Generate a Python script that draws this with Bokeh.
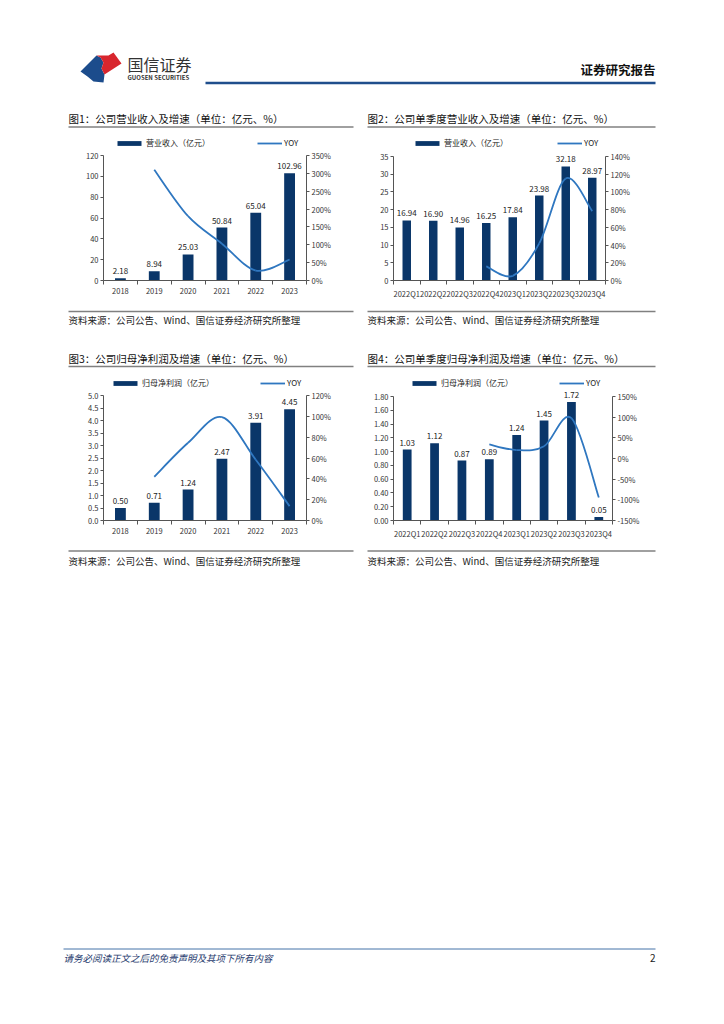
import numpy as np
from bokeh.plotting import figure
from bokeh.models import (Range1d, LinearAxis, FixedTicker, PrintfTickFormatter,
                          Legend, LegendItem)
from bokeh.layouts import column, row
from bokeh.embed import file_html
from bokeh.resources import INLINE
from bokeh.core.properties import value

FONT = "Noto Sans CJK SC"
BAR = "#0a3669"
LINE = "#2f77c0"
RULE = "#808080"

# ---------------- data ----------------
years = ["2018", "2019", "2020", "2021", "2022", "2023"]
quarters = ["2022Q1", "2022Q2", "2022Q3", "2022Q4", "2023Q1", "2023Q2", "2023Q3", "2023Q4"]

revenue_annual = [2.18, 8.94, 25.03, 50.84, 65.04, 102.96]
revenue_annual_yoy = [None, 310.1, 180.0, 103.1, 27.9, 58.3]

revenue_quarter = [16.94, 16.90, 14.96, 16.25, 17.84, 23.98, 32.18, 28.97]
revenue_quarter_yoy = [None, None, None, 16.0, 5.3, 41.9, 115.1, 78.3]

profit_annual = [0.50, 0.71, 1.24, 2.47, 3.91, 4.45]
profit_annual_yoy = [None, 42.0, 74.6, 99.2, 58.3, 13.8]

profit_quarter = [1.03, 1.12, 0.87, 0.89, 1.24, 1.45, 1.72, 0.05]
profit_quarter_yoy = [None, None, None, 34.0, 20.4, 29.5, 97.7, -94.4]

# tick values
ticks_rev_annual = [0, 20, 40, 60, 80, 100, 120]
ticks_rev_annual_pct = [0, 50, 100, 150, 200, 250, 300, 350]
ticks_rev_quarter = [0, 5, 10, 15, 20, 25, 30, 35]
ticks_rev_quarter_pct = [0, 20, 40, 60, 80, 100, 120, 140]
ticks_profit_annual = [0.0, 0.5, 1.0, 1.5, 2.0, 2.5, 3.0, 3.5, 4.0, 4.5, 5.0]
ticks_profit_annual_pct = [0, 20, 40, 60, 80, 100, 120]
ticks_profit_quarter = [0.0, 0.2, 0.4, 0.6, 0.8, 1.0, 1.2, 1.4, 1.6, 1.8]
ticks_profit_quarter_pct = [-150, -100, -50, 0, 50, 100, 150]

titles = ["图1：公司营业收入及增速（单位：亿元、%）",
          "图2：公司单季度营业收入及增速（单位：亿元、%）",
          "图3：公司归母净利润及增速（单位：亿元、%）",
          "图4：公司单季度归母净利润及增速（单位：亿元、%）"]
source_text = "资料来源：公司公告、Wind、国信证券经济研究所整理"

PAGE_W = 716


def blank(y0, y1):
    """decoration strip whose data space equals page pixels (y downwards)"""
    p = figure(width=PAGE_W, height=int(y1 - y0),
               x_range=Range1d(0, PAGE_W), y_range=Range1d(y1, y0),
               output_backend="svg", toolbar_location=None,
               x_axis_type=None, y_axis_type=None,
               min_border=0, min_border_left=0, min_border_right=0,
               min_border_top=0, min_border_bottom=0)
    p.outline_line_color = None
    p.background_fill_color = "white"
    p.border_fill_color = "white"
    return p


def txt(p, x, y, s, size, color="#222", align="left", style="normal"):
    p.text(x=[x], y=[y], text=[s], text_font=value(FONT), text_font_size=size,
           text_color=color, text_align=align, text_baseline="middle",
           text_font_style=style)


def rule(p, x0, x1, y, color=RULE, w=1.5):
    p.segment(x0=[x0], y0=[y], x1=[x1], y1=[y], line_color=color, line_width=w)


def style_axis(ax):
    ax.axis_line_color = "#555555"
    ax.axis_line_width = 1
    ax.major_tick_line_color = "#555555"
    ax.major_tick_in = 0
    ax.major_tick_out = 3
    ax.minor_tick_line_color = None
    ax.major_label_text_font = FONT
    ax.major_label_text_font_size = "7.5px"
    ax.major_label_text_color = "#333333"
    ax.major_label_standoff = 2


def smooth(xs, ys):
    pts = np.column_stack([xs, ys]).astype(float)
    n = len(pts)
    out = {k: [] for k in ("x0", "y0", "x1", "y1", "cx0", "cy0", "cx1", "cy1")}
    for i in range(n - 1):
        pa = pts[max(i - 1, 0)]
        pb = pts[i]
        pc = pts[i + 1]
        pd = pts[min(i + 2, n - 1)]
        c1 = pb + (pc - pa) / 6.0
        c2 = pc - (pd - pb) / 6.0
        out["x0"].append(pb[0]); out["y0"].append(pb[1])
        out["x1"].append(pc[0]); out["y1"].append(pc[1])
        out["cx0"].append(c1[0]); out["cy0"].append(c1[1])
        out["cx1"].append(c2[0]); out["cy1"].append(c2[1])
    return out


def chart(cats, bars, yoy, lticks, lfmt, rticks, width, mb_left, mb_right,
          axis_px, bar_label, bar_leg_x, line_leg_x, vfmt="%.2f"):
    height = 175
    mb_top, mb_bottom = 3, 25
    frame_h = height - mb_top - mb_bottom
    lmin, lmax = lticks[0], lticks[-1]
    rmin, rmax = rticks[0], rticks[-1]
    ltop = lmin + (lmax - lmin) * frame_h / axis_px
    rtop = rmin + (rmax - rmin) * frame_h / axis_px
    n = len(cats)
    idx = list(range(n))
    p = figure(width=width, height=height,
               x_range=Range1d(-0.5, n - 0.5), y_range=Range1d(lmin, ltop),
               output_backend="svg", toolbar_location=None,
               x_axis_type=None, y_axis_type=None,
               min_border_left=mb_left, min_border_right=mb_right,
               min_border_top=mb_top, min_border_bottom=mb_bottom)
    p.outline_line_color = None
    p.background_fill_color = "white"
    p.border_fill_color = "white"
    p.extra_y_ranges = {"pct": Range1d(rmin, rtop)}

    yl = LinearAxis(ticker=FixedTicker(ticks=lticks),
                    formatter=PrintfTickFormatter(format=lfmt), bounds=(lmin, lmax))
    style_axis(yl)
    p.add_layout(yl, "left")

    yr = LinearAxis(y_range_name="pct", ticker=FixedTicker(ticks=rticks),
                    formatter=PrintfTickFormatter(format="%d%%"), bounds=(rmin, rmax))
    style_axis(yr)
    p.add_layout(yr, "right")

    xa = LinearAxis(ticker=FixedTicker(ticks=idx, minor_ticks=[i - 0.5 for i in range(n + 1)]),
                    major_label_overrides={i: c for i, c in enumerate(cats)})
    style_axis(xa)
    xa.major_tick_line_color = None
    xa.major_tick_out = 4
    xa.minor_tick_line_color = "#555555"
    xa.minor_tick_in = 0
    xa.minor_tick_out = 4
    xa.major_label_standoff = 3
    p.add_layout(xa, "below")

    br = p.vbar(x=idx, top=bars, width=0.32, fill_color=BAR, line_color=None)
    p.text(x=idx, y=bars, text=[vfmt % v for v in bars], text_align="center",
           text_baseline="bottom", y_offset=-4, text_font=value(FONT),
           text_font_size="8px", text_color="#222222")

    lx = [i for i, v in zip(idx, yoy) if v is not None]
    ly = [v for v in yoy if v is not None]
    seg = smooth(lx, ly)
    lr = p.bezier(x0=seg["x0"], y0=seg["y0"], x1=seg["x1"], y1=seg["y1"],
                  cx0=seg["cx0"], cy0=seg["cy0"], cx1=seg["cx1"], cy1=seg["cy1"],
                  line_color=LINE, line_width=1.8, y_range_name="pct")

    common = dict(padding=0, margin=0, border_line_color=None, background_fill_alpha=0,
                  label_text_font=FONT, label_text_font_size="8px",
                  label_text_color="#222222", label_height=10)
    leg1 = Legend(items=[LegendItem(label=bar_label, renderers=[br], index=0)],
                  location=(bar_leg_x, 132), glyph_width=30, glyph_height=6,
                  label_standoff=2, **common)
    leg2 = Legend(items=[LegendItem(label="YOY", renderers=[lr], index=0)],
                  location=(line_leg_x, 132), glyph_width=25, glyph_height=6,
                  label_standoff=2, **common)
    p.add_layout(leg1)
    p.add_layout(leg2)
    return p


# ---------------- top strip: header + row-1 titles ----------------
top = blank(0, 130)
top.patch(x=[80, 96, 100, 103, 101, 104, 103, 93, 87],
          y=[71, 55, 57, 62, 68, 74, 82, 81, 76], fill_color="#1c4c8c", line_color=None)
top.patch(x=[96, 108, 113, 121, 104, 101, 103, 100],
          y=[55, 55, 52, 63, 74, 68, 62, 57], fill_color="#d8262e", line_color=None)
txt(top, 127, 63, "国信证券", "16px", color="#333333")
txt(top, 127, 77, "GUOSEN SECURITIES", "6px", color="#333333", style="bold")
txt(top, 655, 69, "证券研究报告", "12.5px", color="#111111", align="right", style="bold")
rule(top, 205, 655, 82.5, color="#1f4e8c", w=2.5)
txt(top, 68, 118, titles[0], "10.5px", color="#111111")
rule(top, 68, 353, 126.5)
txt(top, 367, 118, titles[1], "10.5px", color="#111111")
rule(top, 367, 655, 126.5)

# ---------------- row-1 charts ----------------
c1 = chart(years, revenue_annual, revenue_annual_yoy, ticks_rev_annual, "%d",
           ticks_rev_annual_pct, 360, 103, 54, 125, "营业收入（亿元）", 11, 154)
c2 = chart(quarters, revenue_quarter, revenue_quarter_yoy, ticks_rev_quarter, "%d",
           ticks_rev_quarter_pct, 356, 33, 111, 124, "营业收入（亿元）", 19, 164)

# ---------------- middle strip: row-1 sources + row-2 titles ----------------
mid = blank(305, 370)
rule(mid, 68, 353, 311)
txt(mid, 68, 319, source_text, "9.5px")
rule(mid, 367, 655, 311)
txt(mid, 367, 319, source_text, "9.5px")
txt(mid, 68, 358, titles[2], "10.5px", color="#111111")
rule(mid, 68, 353, 366)
txt(mid, 367, 358, titles[3], "10.5px", color="#111111")
rule(mid, 367, 655, 366)

# ---------------- row-2 charts ----------------
c3 = chart(years, profit_annual, profit_annual_yoy, ticks_profit_annual, "%.1f",
           ticks_profit_annual_pct, 360, 103, 54, 125, "归母净利润（亿元）", 7, 157)
c4 = chart(quarters, profit_quarter, profit_quarter_yoy, ticks_profit_quarter, "%.2f",
           ticks_profit_quarter_pct, 356, 33, 104, 124, "归母净利润（亿元）", 16, 166)

# ---------------- bottom strip: row-2 sources + footer ----------------
bot = blank(545, 1000)
rule(bot, 68, 353, 550.5)
txt(bot, 68, 560, source_text, "9.5px")
rule(bot, 367, 655, 550.5)
txt(bot, 367, 560, source_text, "9.5px")
rule(bot, 63, 655, 948.5, color="#4472a8", w=1)
txt(bot, 63, 957, "请务必阅读正文之后的免责声明及其项下所有内容", "9.5px",
    color="#1f3b6e", style="italic")
txt(bot, 655, 957, "2", "10px", color="#222222", align="right")

page = column(top, row(c1, c2), mid, row(c3, c4), bot)

open("out.html", "w").write(file_html(page, INLINE))
